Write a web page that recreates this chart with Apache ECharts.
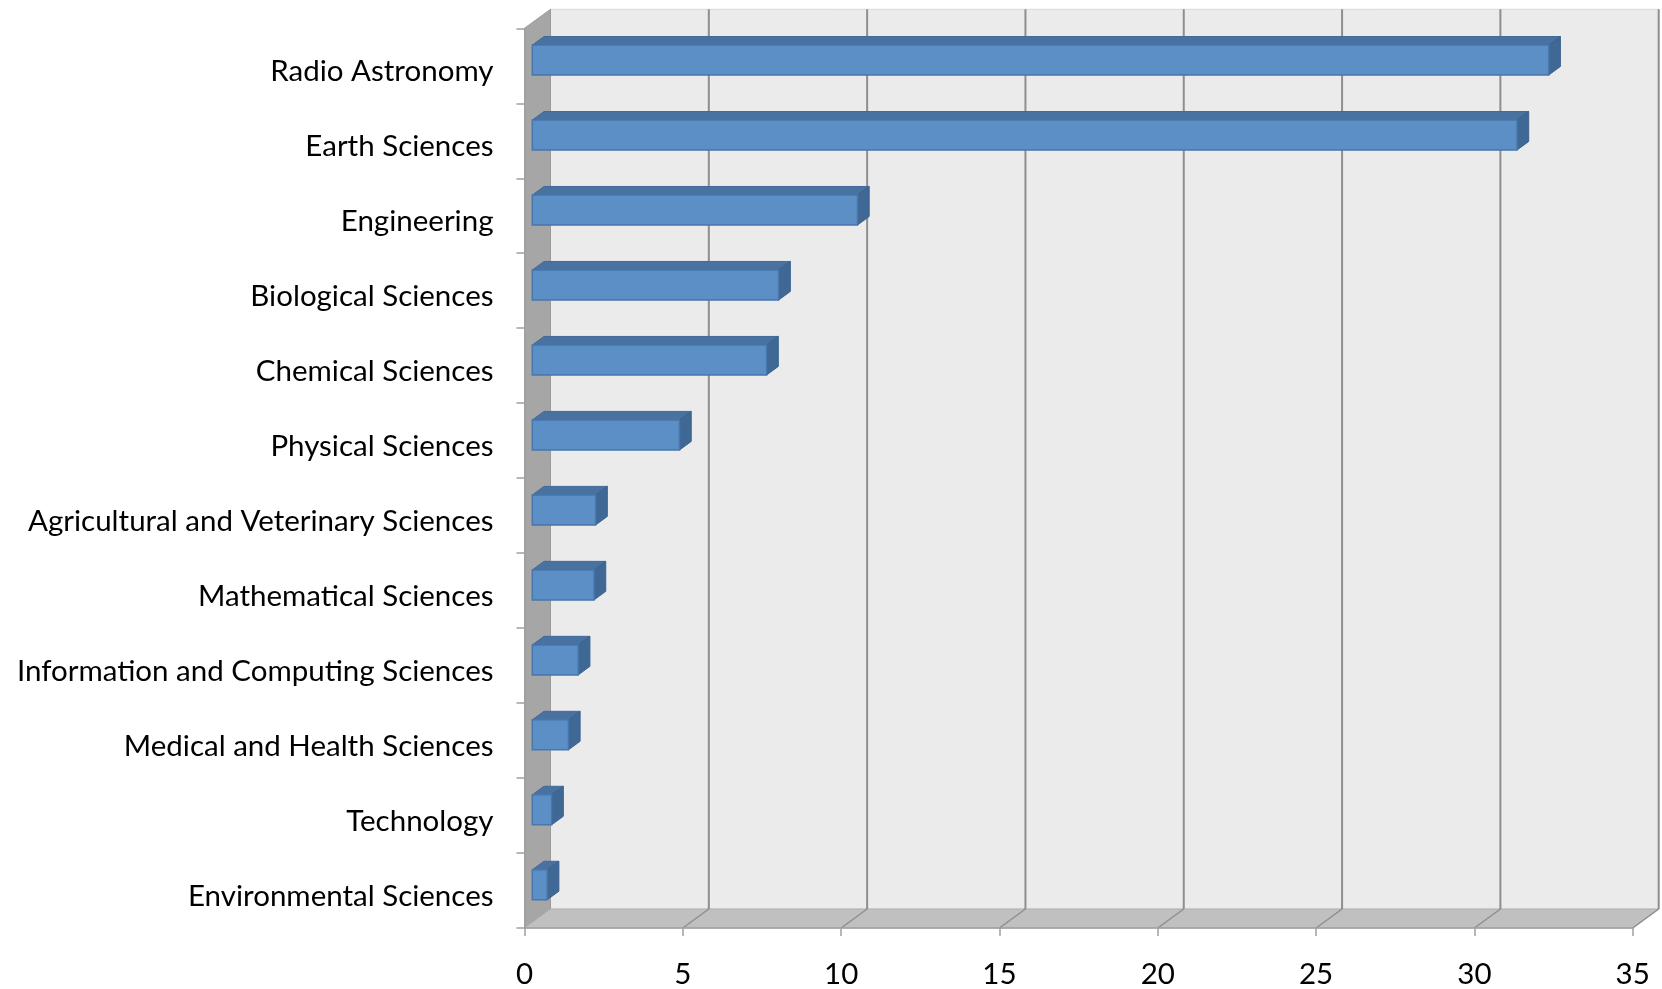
<!DOCTYPE html>
<html>
<head>
<meta charset="utf-8">
<script src="https://cdn.jsdelivr.net/npm/echarts@6/dist/echarts.min.js"></script>
<style>
html,body{margin:0;padding:0;background:#fff;}
#chart{width:1662px;height:989px;}
</style>
</head>
<body>
<div id="chart"></div>
<script>
// ---- data ----
const categories = [
  'Radio Astronomy',
  'Earth Sciences',
  'Engineering',
  'Biological Sciences',
  'Chemical Sciences',
  'Physical Sciences',
  'Agricultural and Veterinary Sciences',
  'Mathematical Sciences',
  'Information and Computing Sciences',
  'Medical and Health Sciences',
  'Technology',
  'Environmental Sciences'
];
const values = [32.1, 31.1, 10.27, 7.78, 7.4, 4.65, 2.0, 1.95, 1.45, 1.14, 0.61, 0.47];
const xTicks = [0, 5, 10, 15, 20, 25, 30, 35];

// ---- 3D styling (pixels) ----
const DX = 26, DY = -19;           // depth offset of the wall
const FRONT = 0.3, DEPTH = 0.45;   // bar position / depth as fraction of wall depth
const BAR_H = 0.4;                 // bar thickness as fraction of band
const FONT = 'Lato';

const chart = echarts.init(document.getElementById('chart'), null, {renderer: 'canvas'});

function renderWalls(params, api) {
  const cs = params.coordSys;
  const x0 = cs.x, y0 = cs.y, x1 = cs.x + cs.width, y1 = cs.y + cs.height;
  const children = [];
  children.push({type: 'rect', shape: {x: x0 + DX, y: y0 + DY, width: x1 - x0, height: y1 - y0},
    style: {fill: '#ebebeb', stroke: '#d9d9d9', lineWidth: 1}});
  children.push({type: 'polygon', shape: {points: [[x0, y0], [x0 + DX, y0 + DY], [x0 + DX, y1 + DY], [x0, y1]]},
    style: {fill: '#a6a6a6', stroke: '#9a9a9a', lineWidth: 1}});
  children.push({type: 'polygon', shape: {points: [[x0, y1], [x0 + DX, y1 + DY], [x1 + DX, y1 + DY], [x1, y1]]},
    style: {fill: '#c0c0c0', stroke: '#b0b0b0', lineWidth: 1}});
  xTicks.forEach(function (t) {
    if (t === 0) return;
    const px = api.coord([t, 0])[0];
    children.push({type: 'line', shape: {x1: px + DX, y1: y0 + DY, x2: px + DX, y2: y1 + DY},
      style: {stroke: '#8e8e8e', lineWidth: 2}});
    children.push({type: 'line', shape: {x1: px, y1: y1, x2: px + DX, y2: y1 + DY},
      style: {stroke: '#8e8e8e', lineWidth: 1.5}});
  });
  return {type: 'group', children: children};
}

function renderBar(params, api) {
  const idx = api.value(1);
  const c0 = api.coord([0, idx]);
  const c1 = api.coord([api.value(0), idx]);
  const band = api.size([0, 1])[1];
  const h = band * BAR_H;
  const fdx = DX * FRONT, fdy = DY * FRONT;
  const bdx = DX * DEPTH, bdy = DY * DEPTH;
  const xa = c0[0] + fdx, xb = c1[0] + fdx;
  const ya = c0[1] + fdy - h / 2, yb = c0[1] + fdy + h / 2;
  return {type: 'group', children: [
    {type: 'polygon', shape: {points: [[xa, ya], [xa + bdx, ya + bdy], [xb + bdx, ya + bdy], [xb, ya]]},
      style: {fill: '#4a72a0', stroke: '#41699a', lineWidth: 1}},
    {type: 'polygon', shape: {points: [[xb, ya], [xb + bdx, ya + bdy], [xb + bdx, yb + bdy], [xb, yb]]},
      style: {fill: '#3f6894', stroke: '#3a6290', lineWidth: 1}},
    {type: 'rect', shape: {x: xa, y: ya, width: xb - xa, height: yb - ya},
      style: {fill: '#5b8fc5', stroke: '#4677ad', lineWidth: 1.5}}
  ]};
}

chart.setOption({
  animation: false,
  backgroundColor: '#ffffff',
  grid: {left: 524.5, top: 28.3, right: 29.3, bottom: 59, containLabel: false},
  xAxis: {
    type: 'value', min: 0, max: 35, interval: 5, z: 5,
    splitLine: {show: false},
    axisLine: {show: true, lineStyle: {color: '#a0a0a0', width: 1.5}},
    axisTick: {show: true, length: 8, lineStyle: {color: '#a0a0a0', width: 1.5}},
    axisLabel: {fontFamily: FONT, fontSize: 29.5, color: '#000', margin: 31}
  },
  yAxis: {
    type: 'category', inverse: true, data: categories, z: 5,
    axisLine: {show: true, lineStyle: {color: '#a0a0a0', width: 1.5}},
    axisTick: {show: true, length: 8, lineStyle: {color: '#a0a0a0', width: 1.5}},
    axisLabel: {fontFamily: FONT, fontSize: 29.5, color: '#000', margin: 31,
      verticalAlign: 'top', lineHeight: 11}
  },
  series: [
    {type: 'custom', name: 'walls', z: 1, silent: true, renderItem: renderWalls,
      data: [[0, 0]], encode: {x: 0, y: 1}},
    {type: 'custom', name: 'bars', z: 2, renderItem: renderBar,
      data: values.map(function (v, i) { return [v, i]; }), encode: {x: 0, y: 1}}
  ]
});
</script>
</body>
</html>
